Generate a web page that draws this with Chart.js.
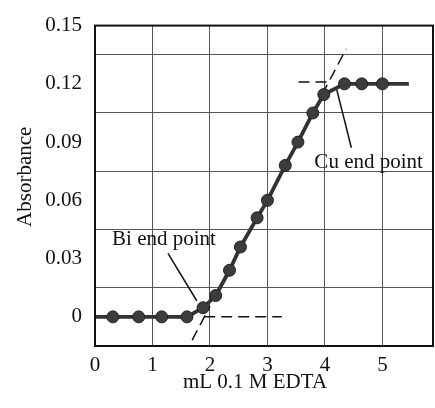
<!DOCTYPE html>
<html>
<head>
<meta charset="utf-8">
<script src="https://cdn.jsdelivr.net/npm/chart.js@4.4.1/dist/chart.umd.min.js"></script>
<style>
  body { margin: 0; background: #fff; }
</style>
</head>
<body>
<canvas id="my-chart" width="435" height="408"></canvas>
<script>
// readings; first and last entries are only the ends of the drawn line
let volumeML = [0, 0.31, 0.76, 1.16, 1.60, 1.88, 2.10, 2.34, 2.53, 2.82, 3.00, 3.31, 3.53, 3.79, 3.98, 4.34, 4.64, 5.00, 5.46]
let absorbance = [0, 0, 0, 0, 0, 0.0047, 0.011, 0.024, 0.036, 0.051, 0.060, 0.078, 0.090, 0.105, 0.1145, 0.120, 0.120, 0.120, 0.120]

// dashed extrapolations at the two end points
let biFlatX = [1.9, 3.25]
let biFlatY = [0, 0]
let biRiseX = [1.69, 2.0]
let biRiseY = [-0.012, 0.0055]
let cuFlatX = [3.54, 4.1]
let cuFlatY = [0.121, 0.121]
let cuRiseX = [3.95, 4.37]
let cuRiseY = [0.1145, 0.138]

// pointer lines from the labels
let biLeaderX = [1.27, 1.77]
let biLeaderY = [0.0327, 0.0083]
let cuLeaderX = [4.2, 4.46]
let cuLeaderY = [0.1177, 0.0871]

let xTicks = [0, 1, 2, 3, 4, 5]
let xTickLabels = ['0', '1', '2', '3', '4', '5']
let yTicks = [0, 0.03, 0.06, 0.09, 0.12, 0.15]
let yTickLabels = ['0', '0.03', '0.06', '0.09', '0.12', '0.15']

const serif = '"Liberation Serif", "DejaVu Serif", serif'
const toPoints = (xs, ys) => xs.map((x, i) => ({ x: x, y: ys[i] }))

function dashed(xs, ys) {
  return {
    data: toPoints(xs, ys),
    borderColor: '#111',
    borderWidth: 1.5,
    borderDash: [11, 6],
    pointRadius: 0
  }
}
function leader(xs, ys) {
  return {
    data: toPoints(xs, ys),
    borderColor: '#111',
    borderWidth: 1.5,
    pointRadius: 0
  }
}

// frame, labels and axis titles
const notes = {
  id: 'notes',
  afterDraw(chart) {
    const { ctx, chartArea: a, scales } = chart
    const sx = scales.x, sy = scales.y
    ctx.save()
    ctx.strokeStyle = '#111'
    ctx.lineWidth = 2
    ctx.strokeRect(a.left, a.top, a.right - a.left, a.bottom - a.top)

    ctx.fillStyle = '#111'
    ctx.font = '21px ' + serif
    ctx.textAlign = 'center'
    ctx.textBaseline = 'middle'
    ctx.fillText('Bi end point', sx.getPixelForValue(1.2), sy.getPixelForValue(0.0398))
    ctx.fillText('Cu end point', sx.getPixelForValue(4.76), sy.getPixelForValue(0.0795))

    ctx.fillText('mL 0.1 M EDTA', (a.left + a.right) / 2 - 9, a.bottom + 36)
    ctx.translate(25, (a.top + a.bottom) / 2 - 9)
    ctx.rotate(-Math.PI / 2)
    ctx.fillText('Absorbance', 0, 0)
    ctx.restore()
  }
}

const lastIndex = volumeML.length - 1
const ctx = document.getElementById('my-chart').getContext('2d')
new Chart(ctx, {
  type: 'line',
  data: {
    datasets: [
      {
        data: toPoints(volumeML, absorbance),
        borderColor: '#333',
        borderWidth: 3.8,
        pointRadius: c => (c.dataIndex === 0 || c.dataIndex === lastIndex) ? 0 : 6,
        pointBackgroundColor: '#3c3c3c',
        pointBorderColor: '#222',
        pointBorderWidth: 1
      },
      dashed(biFlatX, biFlatY),
      dashed(biRiseX, biRiseY),
      dashed(cuFlatX, cuFlatY),
      dashed(cuRiseX, cuRiseY),
      leader(biLeaderX, biLeaderY),
      leader(cuLeaderX, cuLeaderY)
    ]
  },
  options: {
    responsive: false,
    animation: false,
    layout: { padding: { top: 22, right: 2, left: 0, bottom: 0 } },
    plugins: { legend: { display: false }, tooltip: { enabled: false } },
    scales: {
      x: {
        type: 'linear',
        min: 0,
        max: 5.88,
        afterBuildTicks: s => { s.ticks = xTicks.map(v => ({ value: v })) },
        afterFit: s => { s.height = 62 },
        ticks: {
          padding: 7,
          color: '#111',
          font: { family: serif, size: 21 },
          callback: (v, i) => xTickLabels[i]
        },
        grid: { color: '#555', lineWidth: 1, drawTicks: false },
        border: { display: false }
      },
      y: {
        type: 'linear',
        min: -0.015,
        max: 0.15,
        afterBuildTicks: s => { s.ticks = yTicks.map(v => ({ value: v })) },
        afterFit: s => { s.width = 95 },
        ticks: {
          padding: 13,
          color: '#111',
          font: { family: serif, size: 21 },
          callback: (v, i) => yTickLabels[i]
        },
        grid: { color: '#555', lineWidth: 1, drawTicks: false, offset: true },
        border: { display: false }
      }
    }
  },
  plugins: [notes]
})
</script>
</body>
</html>
